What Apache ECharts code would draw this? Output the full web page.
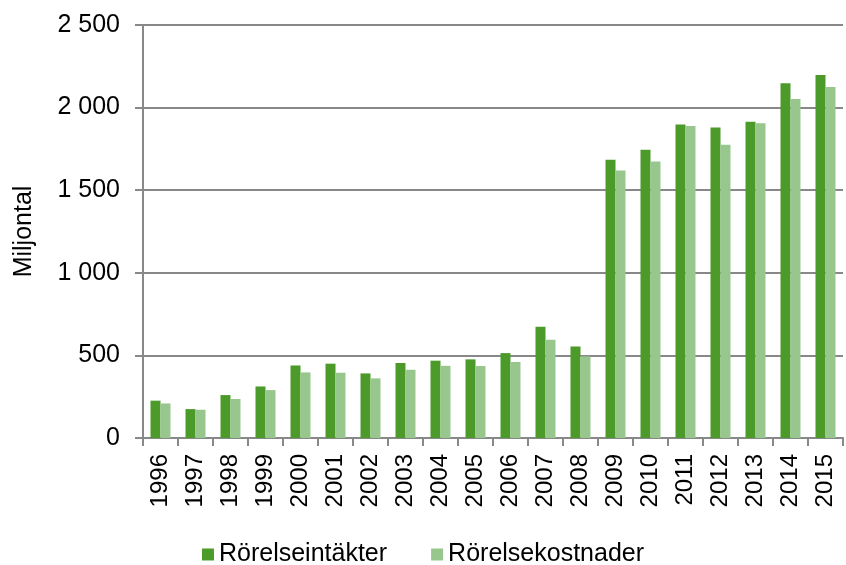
<!DOCTYPE html>
<html><head><meta charset="utf-8">
<script src="https://cdn.jsdelivr.net/npm/echarts@6/dist/echarts.min.js"></script>
<style>html,body{margin:0;padding:0;background:#fff}#c{width:846px;height:565px}</style>
</head><body><div id="c"></div>
<script>
const years = ['1996','1997','1998','1999','2000','2001','2002','2003','2004','2005','2006','2007','2008','2009','2010','2011','2012','2013','2014','2015'];
const intakter = [226,175,260,312,439,450,391,454,468,476,514,673,554,1685,1745,1897,1879,1914,2147,2197];
const kostnader = [209,171,236,290,397,395,361,413,437,436,460,595,494,1619,1673,1888,1775,1906,2052,2125];
const yTicks = [0,500,1000,1500,2000,2500];
const fmt = v => String(v).replace(/\B(?=(\d{3})+(?!\d))/g, ' ');
const chart = echarts.init(document.getElementById('c'));
chart.setOption({
  animation:false,
  textStyle:{fontFamily:'Liberation Sans, Arial, sans-serif'},
  grid:{left:143,right:3,top:25,bottom:127,containLabel:false},
  legend:{top:537,left:'center',itemWidth:12,itemHeight:12,itemGap:44,icon:'rect',
    textStyle:{fontSize:25,color:'#000'},data:['Rörelseintäkter','Rörelsekostnader']},
  xAxis:{type:'category',data:years,
    axisLine:{lineStyle:{color:'#888',width:2}},
    axisTick:{show:true,length:8,lineStyle:{color:'#888',width:2}},
    axisLabel:{rotate:90,fontSize:24,color:'#000',margin:16}},
  yAxis:{type:'value',min:yTicks[0],max:yTicks[yTicks.length-1],interval:500,
    name:'Miljontal',nameLocation:'middle',nameGap:106,nameRotate:90,
    nameTextStyle:{fontSize:25,color:'#000'},
    axisLine:{show:true,lineStyle:{color:'#888',width:2}},
    axisTick:{show:true,length:8,lineStyle:{color:'#888',width:2}},
    axisLabel:{fontSize:25,color:'#000',margin:23,formatter:fmt},
    splitLine:{lineStyle:{color:'#888',width:2}}},
  series:[
    {name:'Rörelseintäkter',type:'bar',data:intakter,barWidth:10,barGap:'0%',itemStyle:{color:'#4C9A2A'}},
    {name:'Rörelsekostnader',type:'bar',data:kostnader,barWidth:10,barGap:'0%',itemStyle:{color:'#97C78D'}}
  ]
});
</script></body></html>
